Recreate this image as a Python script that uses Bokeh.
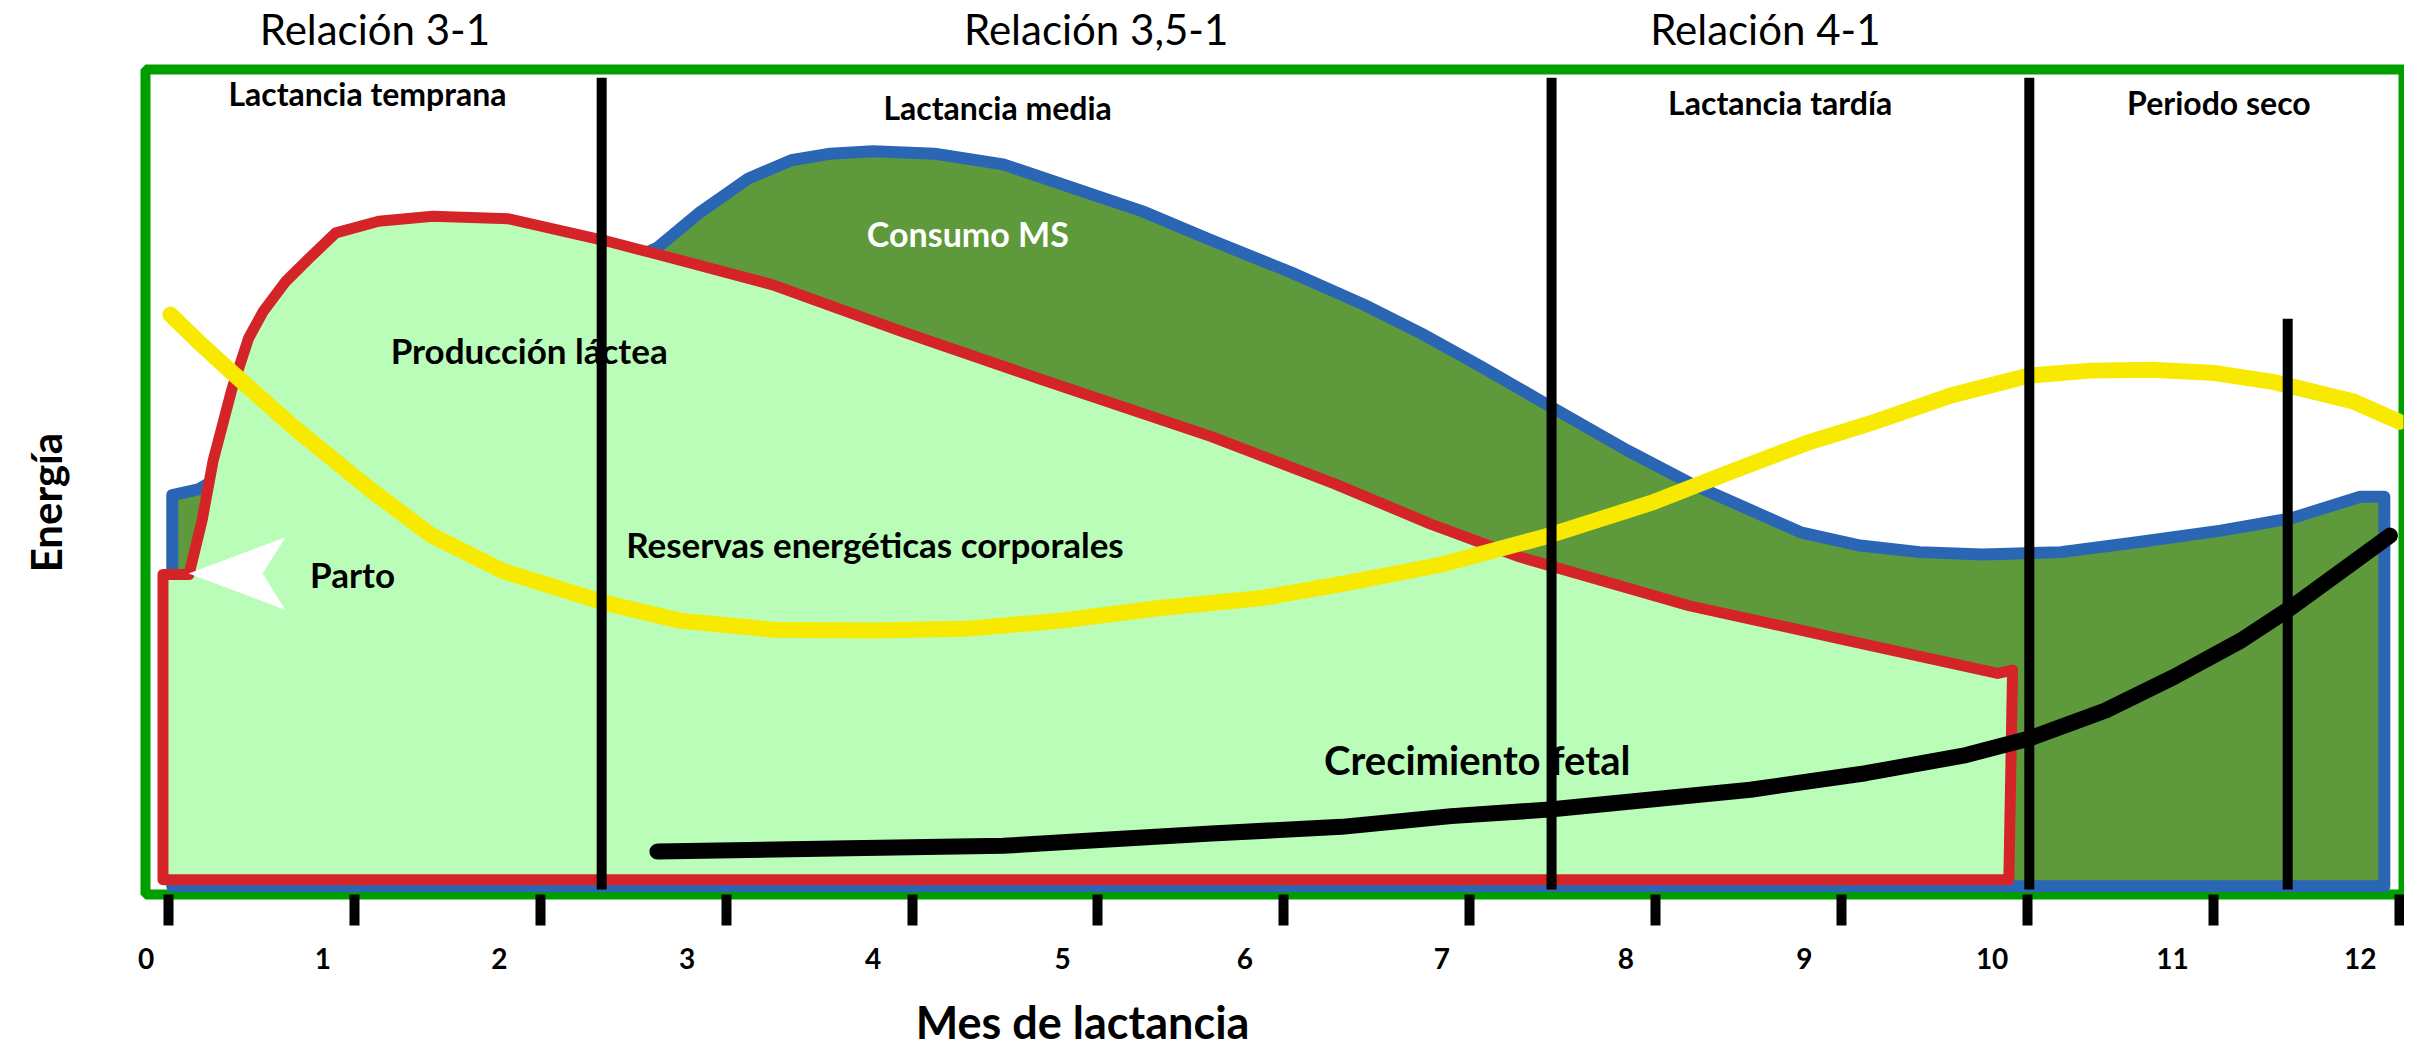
from bokeh.plotting import figure
from bokeh.models import Range1d, LinearAxis, FixedTicker
from bokeh.core.properties import value
from bokeh.embed import file_html
from bokeh.resources import INLINE

# ---------------- data (x: mes de lactancia, y: energía, índice 0-100) ----------------
consumo_x = [0.02, 0.02, 0.16, 1.36, 2.32, 2.63, 2.86, 3.12, 3.35, 3.56, 3.79, 4.12, 4.49, 4.91,
             5.24, 5.61, 6.04, 6.43, 6.74, 7.06, 7.43, 7.85, 8.19, 8.51, 8.78, 9.10, 9.42, 9.76,
             10.18, 10.59, 11.04, 11.42, 11.79, 11.92, 11.92]
consumo_y = [1.0, 48.4, 49.1, 64.7, 75.4, 78.4, 82.7, 86.8, 89.0, 89.8, 90.1, 89.8, 88.5, 85.3,
             82.8, 79.3, 75.4, 71.5, 68.0, 64.0, 59.2, 53.8, 49.8, 46.6, 43.9, 42.3, 41.5, 41.2,
             41.5, 42.7, 44.1, 45.6, 48.2, 48.2, 1.0]

leche_x = [-0.03, -0.03, 0.11, 0.18, 0.24, 0.34, 0.43, 0.51, 0.63, 0.76, 0.90, 1.13, 1.42, 1.83,
           2.34, 2.63, 3.25, 3.95, 4.70, 5.61, 6.27, 6.79, 7.27, 8.18, 9.01, 9.84, 9.92, 9.90]
leche_y = [1.8, 38.8, 38.8, 45.3, 52.6, 61.2, 67.4, 70.7, 74.3, 77.2, 80.2, 81.6, 82.2, 81.9,
           79.3, 77.6, 73.9, 68.2, 62.4, 55.5, 49.8, 44.9, 40.9, 35.0, 30.9, 26.8, 27.2, 1.8]

reservas_x = [0.01, 0.17, 0.34, 0.67, 1.09, 1.41, 1.80, 2.34, 2.75, 3.25, 3.79, 4.29, 4.80, 5.32,
              5.87, 6.35, 6.85, 7.41, 7.98, 8.40, 8.81, 9.18, 9.59, 10.01, 10.34, 10.67, 11.01,
              11.33, 11.75, 12.00]
reservas_y = [70.3, 66.8, 63.3, 56.7, 49.0, 43.6, 39.2, 35.4, 33.2, 32.1, 32.0, 32.2, 33.2, 34.7,
              35.9, 37.8, 40.0, 43.4, 47.5, 51.2, 54.7, 57.3, 60.5, 62.9, 63.5, 63.6, 63.2,
              62.1, 59.8, 57.3]

fetal_x = [2.63, 3.66, 4.49, 5.01, 5.61, 6.31, 6.90, 7.43, 8.51, 9.13, 9.67, 10.01, 10.42, 10.79,
           11.15, 11.42, 11.95]
fetal_y = [5.2, 5.6, 5.9, 6.6, 7.4, 8.2, 9.5, 10.3, 12.7, 14.7, 16.9, 18.9, 22.3, 26.4,
           30.8, 34.8, 43.5]

phase_bounds = [2.33, 7.44, 10.01]          # límites de fases (mes)
dry_marker = 11.40                          # marca corta en periodo seco (mes)

month_ticks = list(range(13))
month_labels = [str(m) for m in month_ticks]

ratio_labels = ["Relación 3-1", "Relación 3,5-1", "Relación 4-1"]
phase_labels = ["Lactancia temprana", "Lactancia media", "Lactancia tardía", "Periodo seco"]
curve_labels = ["Consumo MS", "Producción láctea", "Reservas energéticas corporales",
                "Parto", "Crecimiento fetal"]
x_title = "Mes de lactancia"
y_title = "Energía"

# ---------------- layout constants ----------------
FONT = "Lato"
ratio_pos = [1.11, 4.99, 8.59]
label_pos = [-0.12, 0.83, 1.78, 2.79, 3.79, 4.81, 5.79, 6.85, 7.84, 8.80, 9.81, 10.78, 11.79]
x_title_pos = 4.917
y_title_pos = 47.5
phase_text_x = [1.07, 4.46, 8.67, 11.03]
phase_text_y = [97.05, 95.35, 96.05, 96.05]
arrow_x = [0.108, 0.629, 0.506, 0.629]
arrow_y = [38.9, 43.3, 38.9, 34.5]

p = figure(width=2404, height=1053, x_range=Range1d(-0.124, 12.023), y_range=Range1d(0, 100),
           output_backend="svg", toolbar_location=None,
           x_axis_location=None, y_axis_location=None,
           min_border_left=145, min_border_right=1, min_border_top=69, min_border_bottom=159)
p.grid.visible = False
p.outline_line_color = "#009F00"
p.outline_line_width = 10
p.background_fill_color = "white"
p.border_fill_color = "white"

# areas
p.patch(consumo_x, consumo_y, fill_color="#5E9A3C", line_color="#2A66B4", line_width=12,
        line_join="round")
p.patch(leche_x, leche_y, fill_color="#B9FDB9", line_color="#D42428", line_width=11,
        line_join="round")
p.patch(arrow_x, arrow_y, fill_color="white", line_color=None)

# curves
p.line(reservas_x, reservas_y, line_color="#F7EA00", line_width=16, line_join="round",
       line_cap="round")
p.line(fetal_x, fetal_y, line_color="black", line_width=16, line_join="round", line_cap="round")

# texts inside
p.text(x=phase_text_x, y=phase_text_y, text=phase_labels, text_font=value(FONT),
       text_font_style="bold", text_font_size="32px", text_align="center",
       text_baseline="alphabetic", text_color="black")
p.text(x=[4.30], y=[80.1], text=[curve_labels[0]], text_font=value(FONT), text_font_style="bold",
       text_font_size="34px", text_align="center", text_baseline="alphabetic", text_color="white")
p.text(x=[1.94, 3.80], y=[66.0, 42.5], text=curve_labels[1:3], text_font=value(FONT),
       text_font_style="bold", text_font_size="35px", text_align="center",
       text_baseline="alphabetic", text_color="black")
p.text(x=[0.99], y=[38.8], text=[curve_labels[3]], text_font=value(FONT),
       text_font_style="bold", text_font_size="35px", text_align="center",
       text_baseline="alphabetic", text_color="black")
p.text(x=[7.04], y=[16.3], text=[curve_labels[4]], text_font=value(FONT), text_font_style="bold",
       text_font_size="40px", text_align="center", text_baseline="alphabetic", text_color="black")

# vertical phase lines
p.segment(x0=phase_bounds, y0=[0.6] * 3, x1=phase_bounds, y1=[99.0] * 3, line_color="black",
          line_width=10)
p.segment(x0=[dry_marker], y0=[0.6], x1=[dry_marker], y1=[69.8], line_color="black",
          line_width=10)

# top axis: ratio labels
ax_top = LinearAxis(ticker=FixedTicker(ticks=ratio_pos),
                    major_label_overrides=dict(zip(ratio_pos, ratio_labels)),
                    major_tick_out=0, major_tick_in=0, minor_tick_out=0, minor_tick_in=0,
                    axis_line_color=None, major_label_standoff=16,
                    major_label_text_font=FONT, major_label_text_font_size="42px",
                    major_label_text_font_style="normal", major_label_text_color="black")
p.add_layout(ax_top, "above")

# bottom axis: ticks at months, labels slightly left (hand-drawn look)
ax_bot = LinearAxis(ticker=FixedTicker(ticks=label_pos, minor_ticks=month_ticks),
                    major_label_overrides=dict(zip(label_pos, month_labels)),
                    major_tick_out=31, major_tick_in=0, major_tick_line_color=None,
                    minor_tick_out=31, minor_tick_in=0, minor_tick_line_color="black",
                    minor_tick_line_width=10, axis_line_color=None, major_label_standoff=22,
                    major_label_text_font=FONT, major_label_text_font_size="28px",
                    major_label_text_font_style="bold", major_label_text_color="black")
p.add_layout(ax_bot, "below")

# second bottom axis: x title
ax_xt = LinearAxis(ticker=FixedTicker(ticks=[x_title_pos]),
                   major_label_overrides={x_title_pos: x_title},
                   major_tick_out=0, major_tick_in=0, major_tick_line_color=None,
                   minor_tick_out=0, minor_tick_in=0, axis_line_color=None,
                   major_label_standoff=23, major_label_text_font=FONT,
                   major_label_text_font_size="45px", major_label_text_font_style="bold",
                   major_label_text_color="black")
p.add_layout(ax_xt, "below")

# left axis: y title
ax_left = LinearAxis(ticker=FixedTicker(ticks=[y_title_pos]),
                     major_label_overrides={y_title_pos: y_title},
                     major_label_orientation="vertical",
                     axis_line_color=None, major_tick_out=0, major_tick_in=0,
                     major_tick_line_color=None, minor_tick_out=0, minor_tick_in=0,
                     major_label_standoff=75, major_label_text_font=FONT,
                     major_label_text_font_style="bold", major_label_text_font_size="42px",
                     major_label_text_color="black")
p.add_layout(ax_left, "left")

open("out.html", "w").write(file_html(p, INLINE))
